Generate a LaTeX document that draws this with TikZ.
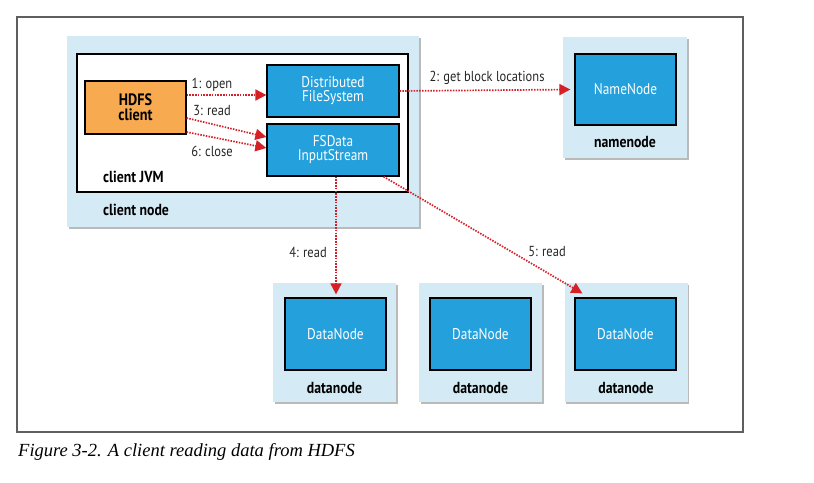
\documentclass[tikz,border=0pt]{standalone}
\usepackage{fontspec}
\setmainfont{PT Sans}[FakeStretch=0.86]
\newfontfamily\capfont{Liberation Serif}
\usetikzlibrary{arrows.meta,shadows}
\definecolor{lightbox}{RGB}{212,235,246}
\definecolor{bluebox}{RGB}{36,160,220}
\definecolor{orangebox}{RGB}{247,170,80}
\definecolor{arrowred}{RGB}{214,32,40}
\definecolor{framegray}{RGB}{95,95,95}
\tikzset{
  hostbox/.style={fill=lightbox,draw=none,drop shadow={shadow xshift=1.5pt,shadow yshift=-1.8pt,fill=black!45,opacity=0.6},inner sep=0pt},
  procbox/.style={fill=bluebox,draw=black,line width=1.2pt,text=white,align=center,inner sep=0pt,font=\fontsize{15.5}{15}\selectfont},
  jvmbox/.style={fill=white,draw=black,line width=1.3pt,inner sep=0pt},
  clientbox/.style={fill=orangebox,draw=black,line width=1.2pt,align=center,inner sep=0pt,font=\bfseries\fontsize{16.5}{16}\selectfont},
  hostlabel/.style={font=\bfseries\fontsize{16}{16}\selectfont,inner sep=0pt},
  msg/.style={draw=arrowred,line width=1.7pt,dash pattern=on 1.5pt off 1.3pt,-{Triangle[length=11pt,width=11pt]}},
  msglabel/.style={font=\fontsize{14.5}{14}\selectfont,text=black!85,inner sep=0pt}
}
\begin{document}
\begin{tikzpicture}[x=1pt,y=-1pt]
\useasboundingbox (0,0) rectangle (814,482);
\draw[framegray,line width=1.2pt] (17,17) rectangle (743,432);
\node[anchor=west,inner sep=0pt,font=\capfont\itshape\fontsize{18.5}{18}\selectfont] (caption) at (18,452) {Figure 3-2. A client reading data from HDFS};

% client node
\node[hostbox,minimum width=352pt,minimum height=191pt] (clientnode) at (243,131.5) {};
\node[jvmbox,minimum width=331pt,minimum height=138pt] (jvm) at (242.5,123) {};
\node[hostlabel,anchor=west] (jvmlabel) at (103,177) {client JVM};
\node[hostlabel,anchor=west] (cnlabel) at (103,210) {client node};
\node[clientbox,minimum width=101pt,minimum height=53pt] (hdfs) at (135.5,107.5) {HDFS\\[-1pt]client};
\node[procbox,minimum width=132pt,minimum height=52pt] (dfs) at (333,91) {Distributed\\[-1pt]FileSystem};
\node[procbox,minimum width=132pt,minimum height=52pt] (fsd) at (333,150) {FSData\\[-1pt]InputStream};

% namenode
\node[hostbox,minimum width=124pt,minimum height=121pt] (nnhost) at (625,97.5) {};
\node[procbox,minimum width=101pt,minimum height=71pt] (nn) at (625.5,89.5) {NameNode};
\node[hostlabel] (nnlabel) at (625,142) {namenode};

% datanodes
\foreach \i/\ox/\ix in {1/334.5/335.5,2/480.5/480.5,3/626/625.5}{
  \node[hostbox,minimum width=123pt,minimum height=119pt] (dnhost\i) at (\ox,342.5) {};
  \node[procbox,minimum width=101pt,minimum height=72pt] (dn\i) at (\ix,334) {DataNode};
  \node[hostlabel] (dnlabel\i) at (\ox,388) {datanode};
}

% messages
\draw[msg] (hdfs.east |- 0,95) -- (dfs.west |- 0,95);
\node[msglabel] (l1) at (212,85) {1: open};
\draw[msg] (dfs.east) -- ([xshift=-4pt]nn.west);
\node[msglabel] (l2) at (487,78) {2: get block locations};
\draw[msg] (hdfs.east |- 0,118) -- (fsd.west |- 0,137);
\node[msglabel] (l3) at (212,111) {3: read};
\draw[msg] (hdfs.east |- 0,132) -- (fsd.west |- 0,148);
\node[msglabel] (l6) at (212,151) {6: close};
\draw[msg] (fsd.south -| 336,0) -- ([yshift=3pt]dn1.north -| 336,0);
\node[msglabel] (l4) at (308,252) {4: read};
\coordinate (fsdout) at ([xshift=-16pt]fsd.south east);
\draw[msg] (fsdout) -- ([xshift=8pt,yshift=4pt]dn3.north west);
\node[msglabel] (l5) at (547,252) {5: read};
\end{tikzpicture}
\end{document}
